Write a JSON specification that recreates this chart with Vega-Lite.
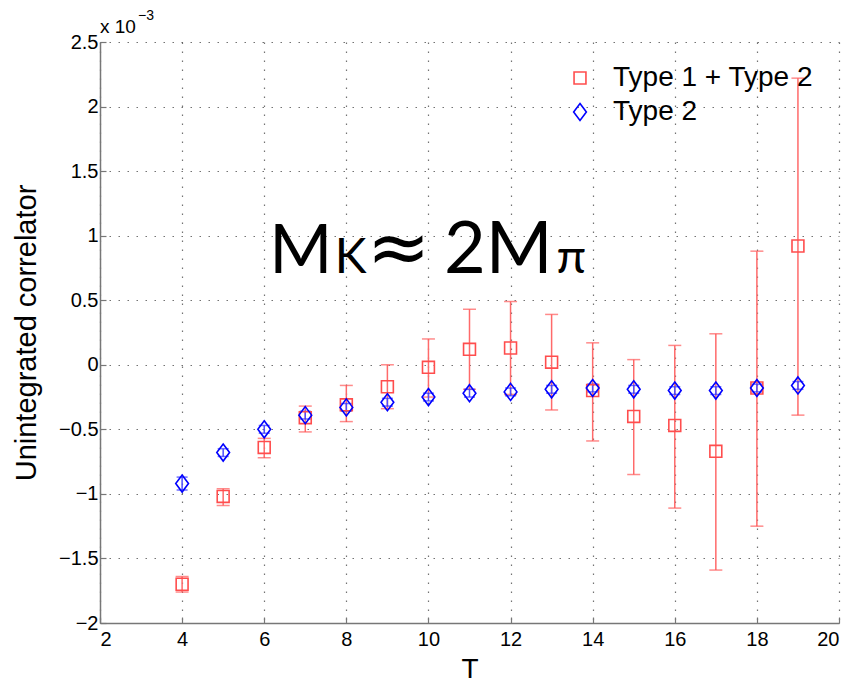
{
  "$schema": "https://vega.github.io/schema/vega-lite/v6.json",
  "width": 739,
  "height": 581,
  "autosize": {"type": "none"},
  "padding": {"left": 100, "top": 42, "right": 14, "bottom": 60},
  "background": "white",
  "config": {
    "view": {"stroke": null},
    "font": "Liberation Sans",
    "axis": {
      "labelFont": "Liberation Sans",
      "labelFontSize": 20,
      "labelColor": "#000",
      "titleFont": "Liberation Sans",
      "titleFontWeight": "normal",
      "titleColor": "#000",
      "domainColor": "#777",
      "domainWidth": 1.5,
      "tickColor": "#777",
      "tickSize": -6,
      "tickWidth": 1.2,
      "gridColor": "#444",
      "gridDash": [1.5, 7.5],
      "gridWidth": 1.2,
      "gridOpacity": 0.75
    },
    "legend": {
      "labelFont": "Liberation Sans",
      "labelFontSize": 28,
      "labelColor": "#000",
      "labelLimit": 400
    }
  },
  "data": {
    "values": [
      {"T": 4, "series": "Type 1 + Type 2", "y": -1.70, "lo": -1.76, "hi": -1.64},
      {"T": 5, "series": "Type 1 + Type 2", "y": -1.02, "lo": -1.09, "hi": -0.96},
      {"T": 6, "series": "Type 1 + Type 2", "y": -0.64, "lo": -0.72, "hi": -0.57},
      {"T": 7, "series": "Type 1 + Type 2", "y": -0.41, "lo": -0.52, "hi": -0.32},
      {"T": 8, "series": "Type 1 + Type 2", "y": -0.31, "lo": -0.44, "hi": -0.16},
      {"T": 9, "series": "Type 1 + Type 2", "y": -0.17, "lo": -0.34, "hi": 0.00},
      {"T": 10, "series": "Type 1 + Type 2", "y": -0.02, "lo": -0.25, "hi": 0.20},
      {"T": 11, "series": "Type 1 + Type 2", "y": 0.12, "lo": -0.19, "hi": 0.43},
      {"T": 12, "series": "Type 1 + Type 2", "y": 0.13, "lo": -0.23, "hi": 0.49},
      {"T": 13, "series": "Type 1 + Type 2", "y": 0.02, "lo": -0.35, "hi": 0.39},
      {"T": 14, "series": "Type 1 + Type 2", "y": -0.20, "lo": -0.59, "hi": 0.17},
      {"T": 15, "series": "Type 1 + Type 2", "y": -0.40, "lo": -0.85, "hi": 0.04},
      {"T": 16, "series": "Type 1 + Type 2", "y": -0.47, "lo": -1.11, "hi": 0.15},
      {"T": 17, "series": "Type 1 + Type 2", "y": -0.67, "lo": -1.59, "hi": 0.24},
      {"T": 18, "series": "Type 1 + Type 2", "y": -0.18, "lo": -1.25, "hi": 0.88},
      {"T": 19, "series": "Type 1 + Type 2", "y": 0.92, "lo": -0.39, "hi": 2.22},
      {"T": 4, "series": "Type 2", "y": -0.92, "lo": -0.97, "hi": -0.87},
      {"T": 5, "series": "Type 2", "y": -0.68, "lo": -0.71, "hi": -0.65},
      {"T": 6, "series": "Type 2", "y": -0.50, "lo": -0.53, "hi": -0.47},
      {"T": 7, "series": "Type 2", "y": -0.39, "lo": -0.42, "hi": -0.36},
      {"T": 8, "series": "Type 2", "y": -0.33, "lo": -0.36, "hi": -0.30},
      {"T": 9, "series": "Type 2", "y": -0.29, "lo": -0.32, "hi": -0.26},
      {"T": 10, "series": "Type 2", "y": -0.25, "lo": -0.28, "hi": -0.22},
      {"T": 11, "series": "Type 2", "y": -0.22, "lo": -0.25, "hi": -0.19},
      {"T": 12, "series": "Type 2", "y": -0.21, "lo": -0.24, "hi": -0.18},
      {"T": 13, "series": "Type 2", "y": -0.19, "lo": -0.22, "hi": -0.16},
      {"T": 14, "series": "Type 2", "y": -0.18, "lo": -0.21, "hi": -0.15},
      {"T": 15, "series": "Type 2", "y": -0.19, "lo": -0.22, "hi": -0.16},
      {"T": 16, "series": "Type 2", "y": -0.20, "lo": -0.23, "hi": -0.17},
      {"T": 17, "series": "Type 2", "y": -0.20, "lo": -0.23, "hi": -0.17},
      {"T": 18, "series": "Type 2", "y": -0.18, "lo": -0.21, "hi": -0.15},
      {"T": 19, "series": "Type 2", "y": -0.16, "lo": -0.19, "hi": -0.13}
    ]
  },
  "layer": [
    {
      "transform": [{"filter": "datum.series == 'Type 1 + Type 2'"}],
      "mark": {"type": "rule", "strokeWidth": 1.5, "color": "#ff6a6a"},
      "encoding": {
        "x": {"field": "T", "type": "quantitative", "scale": {"domain": [2, 20], "nice": false, "zero": false},
          "axis": {"values": [2, 4, 6, 8, 10, 12, 14, 16, 18, 20], "title": "T", "titleFontSize": 28, "labelPadding": 12, "titlePadding": 6, "grid": true}},
        "y": {"field": "lo", "type": "quantitative", "scale": {"domain": [-2, 2.5], "nice": false, "zero": false},
          "axis": {"values": [-2, -1.5, -1, -0.5, 0, 0.5, 1, 1.5, 2, 2.5], "format": "~g", "title": "Unintegrated correlator", "titleFontSize": 29, "labelPadding": 8, "titlePadding": 17, "grid": true}},
        "y2": {"field": "hi"}
      }
    },
    {
      "transform": [{"filter": "datum.series == 'Type 1 + Type 2'"}],
      "mark": {"type": "tick", "orient": "horizontal", "size": 13, "thickness": 1.5, "color": "#ff5a5a"},
      "encoding": {"x": {"field": "T", "type": "quantitative"}, "y": {"field": "lo", "type": "quantitative"}}
    },
    {
      "transform": [{"filter": "datum.series == 'Type 1 + Type 2'"}],
      "mark": {"type": "tick", "orient": "horizontal", "size": 13, "thickness": 1.5, "color": "#ff5a5a"},
      "encoding": {"x": {"field": "T", "type": "quantitative"}, "y": {"field": "hi", "type": "quantitative"}}
    },
    {
      "transform": [{"filter": "datum.series == 'Type 2'"}],
      "mark": {"type": "rule", "strokeWidth": 1.5, "color": "#4d4dff"},
      "encoding": {"x": {"field": "T", "type": "quantitative"}, "y": {"field": "lo", "type": "quantitative"}, "y2": {"field": "hi"}}
    },
    {
      "transform": [{"filter": "datum.series == 'Type 2'"}],
      "mark": {"type": "tick", "orient": "horizontal", "size": 11, "thickness": 1.5, "color": "#3333ff"},
      "encoding": {"x": {"field": "T", "type": "quantitative"}, "y": {"field": "lo", "type": "quantitative"}}
    },
    {
      "transform": [{"filter": "datum.series == 'Type 2'"}],
      "mark": {"type": "tick", "orient": "horizontal", "size": 11, "thickness": 1.5, "color": "#3333ff"},
      "encoding": {"x": {"field": "T", "type": "quantitative"}, "y": {"field": "hi", "type": "quantitative"}}
    },
    {
      "mark": {"type": "point", "filled": false, "strokeWidth": 1.6, "size": 289, "opacity": 1},
      "encoding": {
        "x": {"field": "T", "type": "quantitative"},
        "y": {"field": "y", "type": "quantitative"},
        "color": {"field": "series", "type": "nominal", "scale": {"domain": ["Type 1 + Type 2", "Type 2"], "range": ["#ff4d4d", "#0000ff"]},
          "legend": {"title": null, "orient": "none", "legendX": 466, "legendY": 22, "labelOffset": 19, "rowPadding": 6, "symbolSize": 289, "symbolStrokeWidth": 1.6, "padding": 0}},
        "shape": {"field": "series", "type": "nominal", "scale": {"domain": ["Type 1 + Type 2", "Type 2"], "range": ["M-0.7,-0.7H0.7V0.7H-0.7Z", "M0,-1L0.75,0L0,1L-0.75,0Z"]},
          "legend": {"title": null, "orient": "none", "legendX": 466, "legendY": 22, "labelOffset": 19, "rowPadding": 6, "symbolSize": 289, "symbolStrokeWidth": 1.6, "padding": 0}}
      }
    },
    {
      "data": {"values": [{}]},
      "mark": {"type": "text", "text": "x 10", "font": "Liberation Sans", "fontSize": 19, "align": "left", "baseline": "alphabetic", "dy": -9},
      "encoding": {"x": {"datum": 2, "type": "quantitative"}, "y": {"datum": 2.5, "type": "quantitative"}}
    },
    {
      "data": {"values": [{}]},
      "mark": {"type": "text", "text": "−3", "font": "Liberation Sans", "fontSize": 14, "align": "left", "baseline": "alphabetic", "dx": 38, "dy": -22},
      "encoding": {"x": {"datum": 2, "type": "quantitative"}, "y": {"datum": 2.5, "type": "quantitative"}}
    },
    {
      "data": {"values": [{}]},
      "mark": {"type": "text", "text": "M", "font": "Lato", "fontSize": 68, "align": "left", "baseline": "alphabetic"},
      "encoding": {"x": {"datum": 6.12, "type": "quantitative"}, "y": {"datum": 0.713, "type": "quantitative"}}
    },
    {
      "data": {"values": [{}]},
      "mark": {"type": "text", "text": "K", "font": "Lato", "fontSize": 48, "align": "left", "baseline": "alphabetic"},
      "encoding": {"x": {"datum": 7.72, "type": "quantitative"}, "y": {"datum": 0.713, "type": "quantitative"}}
    },
    {
      "data": {"values": [{}]},
      "mark": {"type": "text", "text": "≈", "font": "DejaVu Sans", "fontSize": 76, "align": "left", "baseline": "alphabetic"},
      "encoding": {"x": {"datum": 8.5, "type": "quantitative"}, "y": {"datum": 0.713, "type": "quantitative"}}
    },
    {
      "data": {"values": [{}]},
      "mark": {"type": "text", "text": "2M", "font": "Lato", "fontSize": 72, "align": "left", "baseline": "alphabetic"},
      "encoding": {"x": {"datum": 10.38, "type": "quantitative"}, "y": {"datum": 0.713, "type": "quantitative"}}
    },
    {
      "data": {"values": [{}]},
      "mark": {"type": "text", "text": "π", "font": "Lato", "fontSize": 48, "align": "left", "baseline": "alphabetic"},
      "encoding": {"x": {"datum": 13.12, "type": "quantitative"}, "y": {"datum": 0.713, "type": "quantitative"}}
    }
  ]
}
